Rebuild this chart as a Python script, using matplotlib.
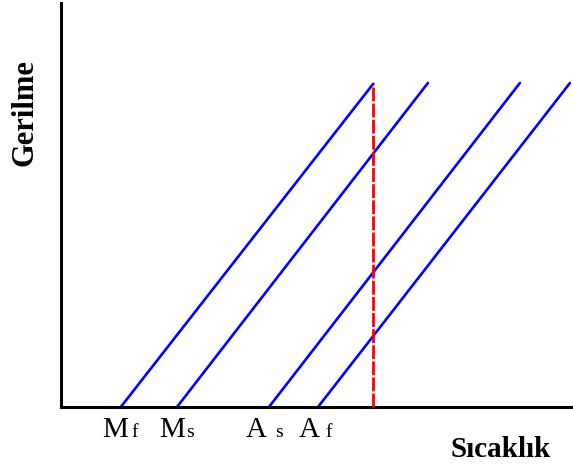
import matplotlib
matplotlib.use("Agg")
import matplotlib.pyplot as plt

# Transformation temperatures (start of each stress-temperature line) and labels
start_temp = [11.7, 22.7, 40.7, 50.3]
end_temp = [61.1, 71.8, 89.8, 99.6]
end_stress = [80.0, 80.2, 80.2, 80.2]
main_labels = ["M", "M", "A", "A"]
sub_labels = ["f", "s", "s", "f"]
test_temp = 61.1
test_stress = 80.0

W, H = 573, 469
fig = plt.figure(figsize=(W / 100, H / 100), dpi=100)
ax = fig.add_axes([61 / W, (H - 407) / H, (572 - 61) / W, (407 - 3) / H])
ax.set_xlim(0, 100)
ax.set_ylim(0, 100)

for x0, x1, y1 in zip(start_temp, end_temp, end_stress):
    ax.plot([x0, x1], [0, y1], color="#0000ff", lw=1.9, solid_capstyle="round",
            clip_on=False, zorder=2)

ax.plot([test_temp, test_temp], [0, test_stress], color="red", lw=2.0,
        dashes=(5, 0.8), clip_on=False, zorder=3)

for s in ["top", "right"]:
    ax.spines[s].set_visible(False)
for s in ["left", "bottom"]:
    ax.spines[s].set_linewidth(2.2)
    ax.spines[s].set_color("black")
ax.set_xticks([])
ax.set_yticks([])

serif = ["Liberation Serif", "DejaVu Serif"]
# Temperature labels: large letter followed by a smaller suffix on the same baseline
main_off = [1.4, 1.6, -0.4, 0.4]
sub_off = [2.1, 1.8, 1.2, 1.4]
base_y = -7.4
for x, m, s, mo, so in zip(start_temp, main_labels, sub_labels, main_off, sub_off):
    ax.text(x + mo, base_y, m, ha="right", va="baseline", fontsize=21,
            family=serif, color="black", clip_on=False)
    ax.text(x + so, base_y, s, ha="left", va="baseline", fontsize=14,
            family=serif, color="black", clip_on=False)

fig.text(25 / W, 1 - 113 / H, "Gerilme", rotation=90, ha="center", va="center",
         fontsize=22, fontweight="bold", family=serif)
fig.text(501 / W, 1 - 449 / H, "Sıcaklık", ha="center", va="center",
         fontsize=21, fontweight="bold", family=serif)

fig.savefig("out.png", dpi=100)
